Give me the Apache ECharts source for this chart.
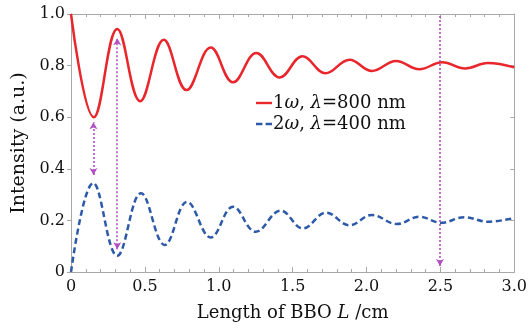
<!DOCTYPE html>
<html>
<head>
<meta charset="utf-8">
<script src="https://cdn.jsdelivr.net/npm/echarts@6/dist/echarts.min.js"></script>
<style>
html,body{margin:0;padding:0;background:#fff;}
#c{width:530px;height:329px;}
</style>
</head>
<body>
<div id="c"></div>
<script>
// ---- data ----
// Red (1ω) curve: extrema [L (cm), intensity]
var redX = [0, 0.155, 0.313, 0.468, 0.628, 0.782, 0.946, 1.097, 1.255, 1.412, 1.567, 1.722, 1.885, 2.036, 2.200, 2.358, 2.512, 2.668, 2.820, 3.0];
var redY = [1.0, 0.600, 0.942, 0.662, 0.900, 0.705, 0.870, 0.735, 0.849, 0.754, 0.836, 0.770, 0.823, 0.779, 0.818, 0.786, 0.813, 0.789, 0.810, 0.793];
// Blue (2ω) curve
var blueX = [0, 0.151, 0.313, 0.474, 0.635, 0.786, 0.946, 1.097, 1.250, 1.419, 1.570, 1.727, 1.885, 2.036, 2.205, 2.358, 2.505, 2.662, 2.820, 3.0];
var blueY = [0.0, 0.345, 0.063, 0.305, 0.105, 0.272, 0.134, 0.253, 0.156, 0.238, 0.169, 0.230, 0.181, 0.221, 0.186, 0.214, 0.191, 0.212, 0.195, 0.209];
// Dotted double arrows: x position, lower end, upper end, and arrowheads
var arrowX = [0.152, 0.313, 2.497];
var arrowLow = [0.376, 0.088, 0.023];
var arrowHigh = [0.580, 0.906, 1.0];
var arrowHeadLow = ['arrow', 'arrow', 'arrow'];
var arrowHeadHigh = ['arrow', 'arrow', 'none'];
// Tick labels
var xTickLabels = ['0', '0.5', '1.0', '1.5', '2.0', '2.5', '3.0'];
var yTickLabels = ['0', '0.2', '0.4', '0.6', '0.8', '1.0'];
// Legend texts
var seriesNames = ['1ω, λ=800 nm', '2ω, λ=400 nm'];
var legendOrder = ['1', '2'];
var legendWave = ['800 nm', '400 nm'];

// ---- build ----
function pairs(xs, ys) { return xs.map(function (x, i) { return [x, ys[i]]; }); }
var FONT = 'DejaVu Serif';
var AXC = '#a8a8a8';
var RED = '#e8262b';
var BLUE = '#2d5aa8';

var arrowLines = arrowX.map(function (x, i) {
  return [
    { coord: [x, arrowLow[i]], symbol: arrowHeadLow[i] },
    { coord: [x, arrowHigh[i]], symbol: arrowHeadHigh[i] }
  ];
});

var chart = echarts.init(document.getElementById('c'), null, { renderer: 'canvas' });
chart.setOption({
  backgroundColor: '#fff',
  animation: false,
  grid: { left: 71, right: 15, top: 14, bottom: 57, containLabel: false },
  legend: {
    data: [
      { name: seriesNames[0], icon: 'path://M0,0h16v2.4h-16z' },
      { name: seriesNames[1], icon: 'path://M0,0h6v2.4h-6zM9,0h6v2.4h-6z' }
    ],
    orient: 'vertical',
    left: 256,
    top: 94,
    padding: 0,
    itemWidth: 16,
    itemHeight: 12,
    itemGap: 3,
    textStyle: {
      fontFamily: FONT, fontSize: 18, color: '#111', padding: [0, 0, 0, -4],
      rich: {
        r: { fontFamily: FONT, fontSize: 18, color: '#111' },
        i: { fontFamily: FONT, fontSize: 18, fontStyle: 'italic', color: '#111' }
      }
    },
    formatter: function (name) {
      var k = seriesNames.indexOf(name);
      return '{r|' + legendOrder[k] + '}{i|ω}{r|, }{i|λ}{r|=' + legendWave[k] + '}';
    }
  },
  xAxis: [{
    type: 'value', min: 0, max: 3, interval: 0.5, position: 'bottom',
    name: 'Length of BBO {i|L} /cm', nameLocation: 'middle', nameGap: 32,
    nameTextStyle: {
      fontFamily: FONT, fontSize: 18, color: '#111',
      rich: { i: { fontFamily: FONT, fontSize: 18, fontStyle: 'italic', color: '#111' } }
    },
    axisLine: { show: true, lineStyle: { color: AXC, width: 1 } },
    axisTick: { show: true, inside: true, length: 5, lineStyle: { color: AXC } },
    minorTick: { show: true, splitNumber: 5, length: 3, lineStyle: { color: AXC } },
    splitLine: { show: false },
    axisLabel: {
      fontFamily: FONT, fontSize: 16, color: '#111', margin: 7,
      formatter: function (v) { return xTickLabels[Math.round(v / 0.5)]; }
    }
  }, {
    type: 'value', min: 0, max: 3, interval: 0.5, position: 'top',
    axisLine: { show: true, onZero: false, lineStyle: { color: AXC, width: 1 } },
    axisTick: { show: true, inside: true, length: 5, lineStyle: { color: AXC } },
    minorTick: { show: true, splitNumber: 5, length: 3, lineStyle: { color: AXC } },
    splitLine: { show: false },
    axisLabel: { show: false }
  }],
  yAxis: [{
    type: 'value', min: 0, max: 1, interval: 0.2, position: 'left',
    name: 'Intensity (a.u.)', nameLocation: 'middle', nameGap: 41,
    nameTextStyle: { fontFamily: FONT, fontSize: 19, color: '#111' },
    axisLine: { show: true, lineStyle: { color: AXC, width: 1 } },
    axisTick: { show: true, inside: false, length: 4, lineStyle: { color: AXC } },
    splitLine: { show: false },
    axisLabel: {
      fontFamily: FONT, fontSize: 16, color: '#111', margin: 6,
      formatter: function (v) { return yTickLabels[Math.round(v / 0.2)]; }
    }
  }, {
    type: 'value', min: 0, max: 1, interval: 0.2, position: 'right',
    axisLine: { show: true, onZero: false, lineStyle: { color: AXC, width: 1 } },
    axisTick: { show: true, inside: true, length: 4, lineStyle: { color: AXC } },
    splitLine: { show: false },
    axisLabel: { show: false }
  }],
  series: [{
    name: seriesNames[0], type: 'line', data: pairs(redX, redY),
    smooth: 0.4, showSymbol: false, symbol: 'none',
    lineStyle: { color: RED, width: 2.5 }, itemStyle: { color: RED }
  }, {
    name: seriesNames[1], type: 'line', data: pairs(blueX, blueY),
    smooth: 0.4, showSymbol: false, symbol: 'none',
    lineStyle: { color: BLUE, width: 2.5, type: [6, 3.5] }, itemStyle: { color: BLUE }
  }, {
    name: 'arrows', type: 'line', data: [], silent: true,
    markLine: {
      silent: true, animation: false, precision: 3,
      symbolSize: [6, 7],
      label: { show: false },
      lineStyle: { color: '#b24fc2', width: 1.6, type: [2, 2] },
      data: arrowLines
    }
  }]
});
</script>
</body>
</html>
